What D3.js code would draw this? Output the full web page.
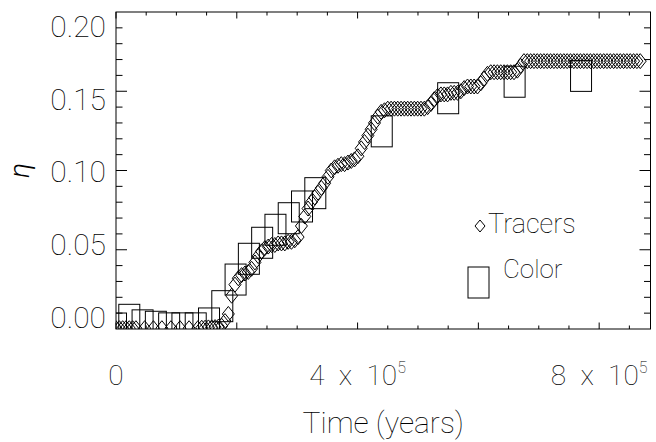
<!DOCTYPE html>
<html>
<head>
<meta charset="utf-8">
<script src="https://cdn.jsdelivr.net/npm/d3@7"></script>
<style>
  body { margin: 0; background: #fff; }
  text { font-family: 'Roboto', 'DejaVu Sans', sans-serif; font-weight: 100; fill: #000; }
</style>
</head>
<body>
<div class="chart"></div>
<script>
// time in kyr, eta dimensionless
const colorTime = [0, 22, 44, 66, 88, 110, 132, 154, 176, 198, 220, 242, 264, 286, 308, 330, 440, 550, 660, 770]
const colorEta = [0.0003, 0.0058, 0.0023, 0.0014, 0.0004, 0.0004, 0.0004, 0.0035, 0.0144, 0.0312,
    0.0443, 0.0544, 0.0626, 0.0699, 0.0773, 0.0857, 0.1247, 0.1456, 0.1560, 0.1597]

const tracerTime = [0, 5.5, 11, 16.5, 22, 27.5,
    33, 47.5, 62, 76, 91, 106, 121, 135.5,
    142, 147.5, 153, 158.5, 164, 169.5, 175, 180.5, 186,
    191.5, 197, 202.5, 208, 213.5, 219, 224.5, 230, 235.5, 241, 246.5, 252, 257.5, 263, 268.5,
    274, 279.5, 285, 290.5, 296, 301.5,
    307, 312.5, 318, 323.5, 329, 334.5, 340, 345.5, 351, 356.5, 362, 367.5, 373, 378.5, 384,
    389.5, 395, 400.5, 406, 411.5, 417, 422.5, 428, 433.5, 439, 444.5,
    450, 455.5, 461, 466.5, 472, 477.5, 483, 488.5, 494, 499.5, 505, 510.5, 516,
    521.5, 527, 532.5, 538, 543.5, 549, 554.5, 560, 565.5, 571, 576.5, 582, 587.5, 593, 598.5,
    604, 609.5, 615, 620.5, 626, 631.5, 637, 642.5, 648, 653.5, 659, 664.5, 670,
    675.5, 681, 686.5, 692, 697.5, 703, 708.5, 714, 719.5, 725, 730.5, 736, 741.5, 747, 752.5,
    758, 763.5, 769, 774.5, 780, 785.5, 791, 796.5, 802, 807.5, 813, 818.5, 824, 829.5, 835,
    840.5, 846, 851.5, 857, 862.5, 868]
const tracerEta = [0.0005, 0.0005, 0.0005, 0.0005, 0.0005, 0.0005,
    0.0005, 0.0005, 0.0005, 0.0005, 0.0005, 0.0005, 0.0005, 0.0005,
    0.0008, 0.0008, 0.0010, 0.0010, 0.0012, 0.0015, 0.0020, 0.0050, 0.0095,
    0.021, 0.028, 0.032, 0.034, 0.035, 0.036, 0.038, 0.042, 0.046, 0.049, 0.051, 0.052, 0.053, 0.053, 0.054,
    0.054, 0.054, 0.055, 0.055, 0.056, 0.058,
    0.065, 0.071, 0.076, 0.080, 0.083, 0.086, 0.089, 0.092, 0.096, 0.100, 0.102, 0.103, 0.104, 0.104, 0.105,
    0.106, 0.107, 0.109, 0.114, 0.118, 0.122, 0.126, 0.130, 0.134, 0.137, 0.138,
    0.139, 0.139, 0.139, 0.139, 0.139, 0.139, 0.139, 0.139, 0.139, 0.139, 0.139, 0.139, 0.140,
    0.142, 0.145, 0.147, 0.148, 0.148, 0.148, 0.149, 0.149, 0.149, 0.150, 0.152, 0.153, 0.153, 0.153, 0.153,
    0.155, 0.158, 0.161, 0.162, 0.162, 0.162, 0.162, 0.162, 0.162, 0.162, 0.162, 0.163, 0.166,
    0.169, 0.169, 0.169, 0.169, 0.169, 0.169, 0.169, 0.169, 0.169, 0.169, 0.169, 0.169, 0.169, 0.169, 0.169,
    0.169, 0.169, 0.169, 0.169, 0.169, 0.169, 0.169, 0.169, 0.169, 0.169, 0.169, 0.169, 0.169, 0.169, 0.169,
    0.169, 0.169, 0.169, 0.169, 0.169, 0.169]

const xMajor = [0, 200, 400, 600, 800]
const xLabelValues = [0, 400, 800]
const xLabelMantissa = ['0', '4', '8']
const yLabelValues = [0, 0.05, 0.10, 0.15, 0.20]
const yLabelText = ['0.00', '0.05', '0.10', '0.15', '0.20']
const legendNames = ['Tracers', 'Color']

const W = 656, H = 442
const plot = { left: 116, right: 650.5, top: 12, bottom: 329 }

const svg = d3.select('.chart').append('svg')
    .attr('width', W)
    .attr('height', H)
svg.append('rect').attr('width', W).attr('height', H).attr('fill', '#fff')

const x = d3.scaleLinear().domain([0, 885]).range([plot.left, plot.right])
const y = d3.scaleLinear().domain([0, 0.2]).range([plot.bottom, plot.top])
// the tick labels sit a little inside the ticks in the original
const yLab = d3.scaleLinear().domain([0, 0.2]).range([317, 26])

svg.append('clipPath').attr('id', 'clip')
    .append('rect')
    .attr('x', plot.left).attr('y', plot.top)
    .attr('width', plot.right - plot.left).attr('height', plot.bottom - plot.top)

const marks = svg.append('g').attr('clip-path', 'url(#clip)')

// Color: tall open boxes
const box = { w: 21, h: 31 }
marks.selectAll('rect.color').data(colorTime).enter().append('rect')
    .attr('class', 'color')
    .attr('x', (d, i) => x(d) - box.w / 2)
    .attr('y', (d, i) => y(colorEta[i]) - box.h / 2)
    .attr('width', box.w)
    .attr('height', box.h)
    .attr('fill', 'none')
    .attr('stroke', '#000')
    .attr('stroke-width', 1)

// Tracers: diamonds
const diamond = (cx, cy, hw, hh) => `M${cx},${cy - hh}L${cx + hw},${cy}L${cx},${cy + hh}L${cx - hw},${cy}Z`
marks.selectAll('path.tracer').data(tracerTime).enter().append('path')
    .attr('class', 'tracer')
    .attr('d', (d, i) => diamond(x(d), y(tracerEta[i]), 6, 7.5))
    .attr('fill', 'none')
    .attr('stroke', '#000')
    .attr('stroke-width', 1)

// frame
svg.append('rect')
    .attr('x', plot.left).attr('y', plot.top)
    .attr('width', plot.right - plot.left).attr('height', plot.bottom - plot.top)
    .attr('fill', 'none').attr('stroke', '#000').attr('stroke-width', 1)

// ticks on all four sides
const xMinor = d3.range(50, 885, 50).filter(v => xMajor.indexOf(v) < 0)
const yMinor = d3.range(1, 20).map(v => v / 100).filter(v => Math.round(v * 100) % 5 !== 0)
const yMajor = [0.05, 0.10, 0.15]
const ticks = svg.append('g').attr('stroke', '#000').attr('stroke-width', 1)
const xt = (vals, len) => {
    vals.forEach(v => {
        ticks.append('line').attr('x1', x(v)).attr('x2', x(v)).attr('y1', plot.bottom).attr('y2', plot.bottom - len)
        ticks.append('line').attr('x1', x(v)).attr('x2', x(v)).attr('y1', plot.top).attr('y2', plot.top + len)
    })
}
const yt = (vals, len) => {
    vals.forEach(v => {
        ticks.append('line').attr('y1', y(v)).attr('y2', y(v)).attr('x1', plot.left).attr('x2', plot.left + len)
        ticks.append('line').attr('y1', y(v)).attr('y2', y(v)).attr('x1', plot.right).attr('x2', plot.right - len)
    })
}
xt(xMajor, 6.5)
xt(xMinor, 3.5)
yt(yMajor, 11)
yt(yMinor, 6.5)

// y tick labels
svg.selectAll('text.ylab').data(yLabelValues).enter().append('text')
    .attr('class', 'ylab')
    .attr('x', 106)
    .attr('y', d => yLab(d))
    .attr('dy', '0.36em')
    .attr('text-anchor', 'end')
    .style('font-size', '30px')
    .text((d, i) => yLabelText[i])

// x tick labels, with 10^5 exponent
const xl = svg.selectAll('text.xlab').data(xLabelValues).enter().append('text')
    .attr('class', 'xlab')
    .attr('x', d => x(d))
    .attr('y', 385)
    .attr('text-anchor', 'middle')
    .style('font-size', '28px')
xl.append('tspan').text((d, i) => xLabelMantissa[i])
xl.filter(d => d > 0).append('tspan').text('\u2002x\u200210')
xl.filter(d => d > 0).append('tspan').attr('dy', -12).style('font-size', '16px').text('5')

svg.append('text')
    .attr('x', (plot.left + plot.right) / 2)
    .attr('y', 433)
    .attr('text-anchor', 'middle')
    .style('font-size', '30px')
    .text('Time (years)')

// y title, turned like IDL's ytitle
svg.append('text')
    .attr('transform', `translate(29, ${(plot.top + plot.bottom) / 2}) rotate(-90)`)
    .attr('text-anchor', 'middle')
    .style('font-size', '28px')
    .style('font-style', 'italic')
    .style('font-weight', 300)
    .text('\u03b7')

// legend
const lg = svg.append('g')
lg.append('path').attr('d', diamond(480, 226, 5, 6))
    .attr('fill', 'none').attr('stroke', '#000').attr('stroke-width', 1)
lg.append('text').attr('x', 488).attr('y', 233).style('font-size', '27px').text(legendNames[0])
lg.append('rect').attr('x', 468).attr('y', 267).attr('width', box.w).attr('height', box.h)
    .attr('fill', 'none').attr('stroke', '#000').attr('stroke-width', 1)
lg.append('text').attr('x', 503).attr('y', 278).style('font-size', '26px').text(legendNames[1])
</script>
</body>
</html>
